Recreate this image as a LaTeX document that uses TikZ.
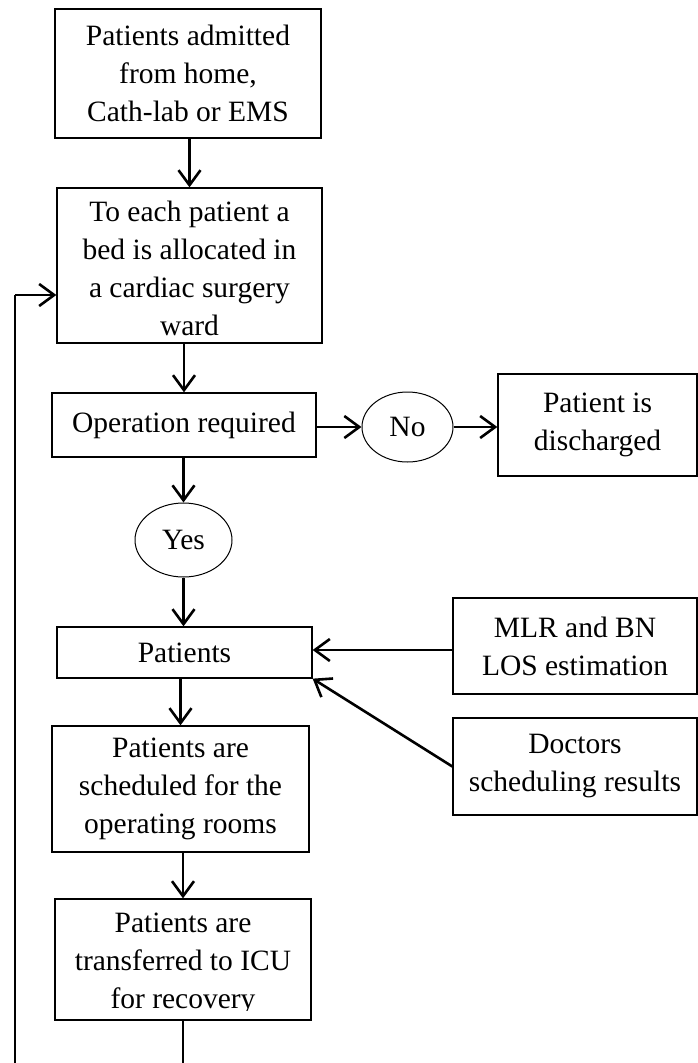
\documentclass[tikz,border=0pt]{standalone}
\usepackage{fontspec}
\setmainfont{Liberation Serif}
\usetikzlibrary{arrows.meta,shapes.geometric}
\begin{document}
\begin{tikzpicture}[x=1pt,y=-1pt,
  box/.style={draw,line width=1.3pt,rectangle,align=center,inner sep=0pt,
    font=\fontsize{29.5}{38}\selectfont},
  txt/.style={align=center,inner sep=0pt,font=\fontsize{29.5}{38}\selectfont},
  oval/.style={draw,line width=1pt,ellipse,inner sep=0pt,
    font=\fontsize{29.5}{38}\selectfont},
  arr/.style={line width=2.6pt,-{Straight Barb[length=15pt,width=22pt,line width=2.6pt]}},
  thin/.style={line width=1.5pt}]
\useasboundingbox (0,0) rectangle (698,1063);
\node[box,minimum width=266pt,minimum height=129pt] (b1) at (188,73.5)
  {Patients admitted\\from home,\\Cath-lab or EMS};
\node[box,minimum width=265pt,minimum height=155pt] (b2) at (189.5,265.5) {};
\node[txt] (b2t) at (189.5,268.5) {To each patient a\\bed is allocated in\\a cardiac surgery\\ward};
\node[box,minimum width=264pt,minimum height=64pt] (b3) at (184,425)
  {Operation required};
\node[oval,minimum width=91pt,minimum height=70pt] (no) at (407.5,427) {No};
\node[box,minimum width=199pt,minimum height=102pt] (dis) at (597.5,425)
  {Patient is\\discharged};
\node[oval,minimum width=97pt,minimum height=74pt] (yes) at (183.5,540) {Yes};
\node[box,minimum width=255pt,minimum height=51pt] (pat) at (184.5,652.5)
  {Patients};
\node[box,minimum width=244pt,minimum height=96pt] (mlr) at (575,646)
  {MLR and BN\\LOS estimation};
\node[box,minimum width=244pt,minimum height=97pt] (doc) at (575,766.5)
  {Doctors\\scheduling results};
\node[box,minimum width=257pt,minimum height=126pt] (sch) at (180.5,789)
  {Patients are\\scheduled for the\\operating rooms};
\node[box,minimum width=256pt,minimum height=121pt] (tr) at (183,959.5) {};
\begin{scope}
  \clip (56,900) rectangle (310,1010);
  \node[txt] (trt) at (183,964) {Patients are\\transferred to ICU\\for recovery};
\end{scope}
\coordinate (c1) at (182,1080);
\coordinate (c2) at (15,1080);
\coordinate (c3) at (15,295);
\draw[arr] (b2.north |- b1.south) -- (b2.north);
\draw[arr] (b3.north |- b2.south) -- (b3.north);
\draw[arr] (b3.east |- no.west) -- (no.west);
\draw[arr] (no.east) -- (no.east -| dis.west);
\draw[arr] (yes.north |- b3.south) -- (yes.north);
\draw[arr] (yes.south) -- (yes.south |- pat.north);
\draw[arr] (mlr.west) ++(0,4) -- (pat.east |- 0,650);
\draw[arr] (doc.west) -- (pat.south east);
\draw[arr] (sch.north |- pat.south) -- (sch.north);
\draw[arr] (tr.north |- sch.south) -- (tr.north);
\draw[thin] (tr.south) -- (tr.south |- c1) -- (c2) -- (c3);
\draw[arr,line width=1.5pt] (c3) -- (c3 -| b2.west);
\end{tikzpicture}
\end{document}
